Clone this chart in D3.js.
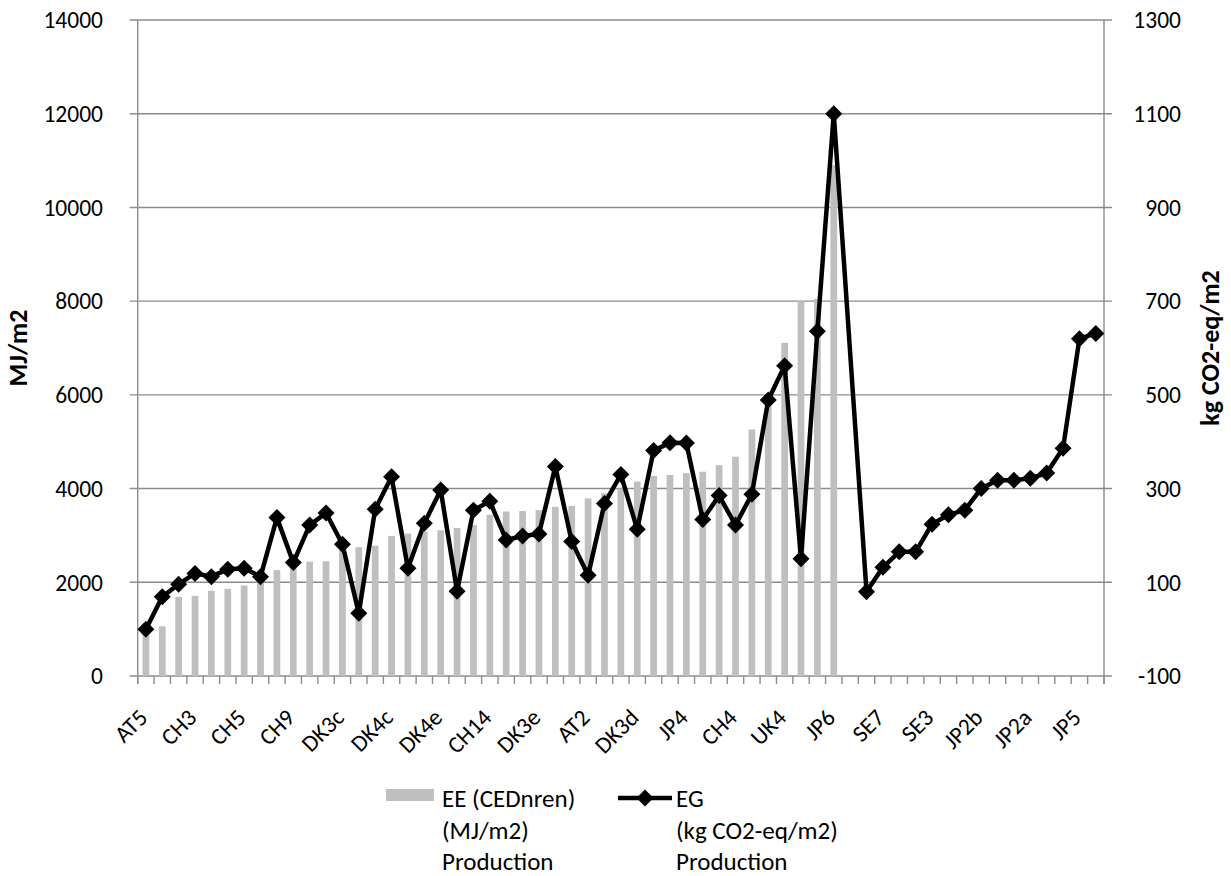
<!DOCTYPE html>
<html>
<head>
<meta charset="utf-8">
<script src="https://cdn.jsdelivr.net/npm/d3@7"></script>
<style>
  html, body { margin: 0; padding: 0; background: #fff; }
  svg { display: block; font-family: Carlito, Calibri, Lato, "Open Sans", sans-serif; }
</style>
</head>
<body>
<svg id="chart" width="1231" height="876"></svg>
<script>
// ---- data ----
const categories = ["AT5","","","CH3","","","CH5","","","CH9","","","DK3c","","","DK4c","","","DK4e","","","CH14","","","DK3e","","","AT2","","","DK3d","","","JP4","","","CH4","","","UK4","","","JP6","","","SE7","","","SE3","","","JP2b","","","JP2a","","","JP5",""];
const eeValues = [950,1060,1690,1710,1820,1860,1930,1990,2260,2300,2440,2450,2720,2750,2780,2990,3040,3080,3110,3160,3220,3440,3510,3520,3540,3610,3630,3790,3900,4000,4150,4270,4290,4330,4360,4500,4680,5260,5900,7110,8000,8050,10900,null,null,null,null,null,null,null,null,null,null,null,null,null,null,null,null];
const egValues = [0,69,96,119,112,128,130,112,238,142,222,248,181,34,256,325,130,226,297,81,254,273,190,199,203,347,187,115,268,330,213,381,398,397,234,285,222,288,489,562,150,636,1100,null,80,132,165,165,224,244,254,300,318,318,322,333,386,620,631];
const leftTicks = [0,2000,4000,6000,8000,10000,12000,14000];
const rightTicks = [-100,100,300,500,700,900,1100,1300];
const leftTitle = "MJ/m2";
const rightTitle = "kg CO2-eq/m2";
const legendEE = ["EE (CEDnren)", "(MJ/m2)", "Production"];
const legendEG = ["EG", "(kg CO2-eq/m2)", "Production"];

// ---- layout ----
const svg = d3.select("#chart");
const L = 137.7, R = 1104, T = 20, B = 676;
const gridColor = "#8c8c8c";
const barColor = "#bfbfbf";
const tickFs = 23.5, catFs = 23.5, titleFs = 26, legendFs = 25;

const idx = d3.range(categories.length);
const x = d3.scaleBand().domain(idx).range([L, R]).paddingInner(0).paddingOuter(0);
const yL = d3.scaleLinear().domain([0, 14000]).range([B, T]);
const yR = d3.scaleLinear().domain([-100, 1300]).range([B, T]);

// gridlines
svg.append("g").selectAll("line").data(leftTicks).join("line")
  .attr("x1", L - 8).attr("x2", R + 8)
  .attr("y1", d => yL(d)).attr("y2", d => yL(d))
  .attr("stroke", gridColor).attr("stroke-width", 1.4);

// vertical axis lines
svg.append("line").attr("x1", L).attr("x2", L).attr("y1", T).attr("y2", B + 8)
  .attr("stroke", gridColor).attr("stroke-width", 1.4);
svg.append("line").attr("x1", R).attr("x2", R).attr("y1", T).attr("y2", B + 8)
  .attr("stroke", gridColor).attr("stroke-width", 1.4);

// category tick marks
svg.append("g").selectAll("line").data(d3.range(categories.length + 1)).join("line")
  .attr("x1", i => L + i * x.bandwidth()).attr("x2", i => L + i * x.bandwidth())
  .attr("y1", B).attr("y2", B + 8)
  .attr("stroke", gridColor).attr("stroke-width", 1.4);

// left tick labels
svg.append("g").selectAll("text").data(leftTicks).join("text")
  .attr("x", 103).attr("y", d => yL(d)).attr("dy", "0.35em")
  .attr("text-anchor", "end").attr("font-size", tickFs).attr("fill", "#000")
  .text(d => d);

// right tick labels
svg.append("g").selectAll("text").data(rightTicks).join("text")
  .attr("x", 1181).attr("y", d => yR(d)).attr("dy", "0.35em")
  .attr("text-anchor", "end").attr("font-size", tickFs).attr("fill", "#000")
  .text(d => d);

// category labels
svg.append("g").selectAll("text").data(idx.filter(i => categories[i] !== "")).join("text")
  .attr("transform", i => `translate(${x(i) + x.bandwidth() / 2 + 3},${719}) rotate(-45)`)
  .attr("text-anchor", "end").attr("font-size", catFs).attr("fill", "#000")
  .text(i => categories[i]);

// bars
const bw = x.bandwidth() * 0.41;
svg.append("g").selectAll("rect").data(idx.filter(i => eeValues[i] != null)).join("rect")
  .attr("x", i => x(i) + x.bandwidth() / 2 - bw / 2)
  .attr("width", bw)
  .attr("y", i => yL(eeValues[i]))
  .attr("height", i => B - yL(eeValues[i]))
  .attr("fill", barColor);

// line
const pts = idx.filter(i => egValues[i] != null).map(i => [x(i) + x.bandwidth() / 2, yR(egValues[i])]);
svg.append("path").datum(pts)
  .attr("d", d3.line())
  .attr("fill", "none").attr("stroke", "#000").attr("stroke-width", 4.5)
  .attr("stroke-linejoin", "round");

const diamond = (cx, cy, r) => `M${cx},${cy - r}L${cx + r},${cy}L${cx},${cy + r}L${cx - r},${cy}Z`;
svg.append("g").selectAll("path").data(pts).join("path")
  .attr("d", p => diamond(p[0], p[1], 8.5))
  .attr("fill", "#000");

// axis titles
svg.append("text").attr("transform", `translate(27,${(T + B) / 2}) rotate(-90)`)
  .attr("text-anchor", "middle").attr("font-size", titleFs).attr("font-weight", "bold")
  .text(leftTitle);
svg.append("text").attr("transform", `translate(1219,${(T + B) / 2}) rotate(-90)`)
  .attr("text-anchor", "middle").attr("font-size", titleFs).attr("font-weight", "bold")
  .text(rightTitle);

// legend
const lg = svg.append("g");
lg.append("rect").attr("x", 386).attr("y", 789).attr("width", 48).attr("height", 12).attr("fill", barColor);
lg.append("g").selectAll("text").data(legendEE).join("text")
  .attr("x", 442).attr("y", (d, i) => 807 + i * 31.7)
  .attr("font-size", legendFs).text(d => d);
lg.append("line").attr("x1", 618).attr("x2", 672).attr("y1", 798).attr("y2", 798)
  .attr("stroke", "#000").attr("stroke-width", 4.5);
lg.append("path").attr("d", diamond(645, 798, 8.5)).attr("fill", "#000");
lg.append("g").selectAll("text").data(legendEG).join("text")
  .attr("x", 676).attr("y", (d, i) => 807 + i * 31.7)
  .attr("font-size", legendFs).text(d => d);
</script>
</body>
</html>
